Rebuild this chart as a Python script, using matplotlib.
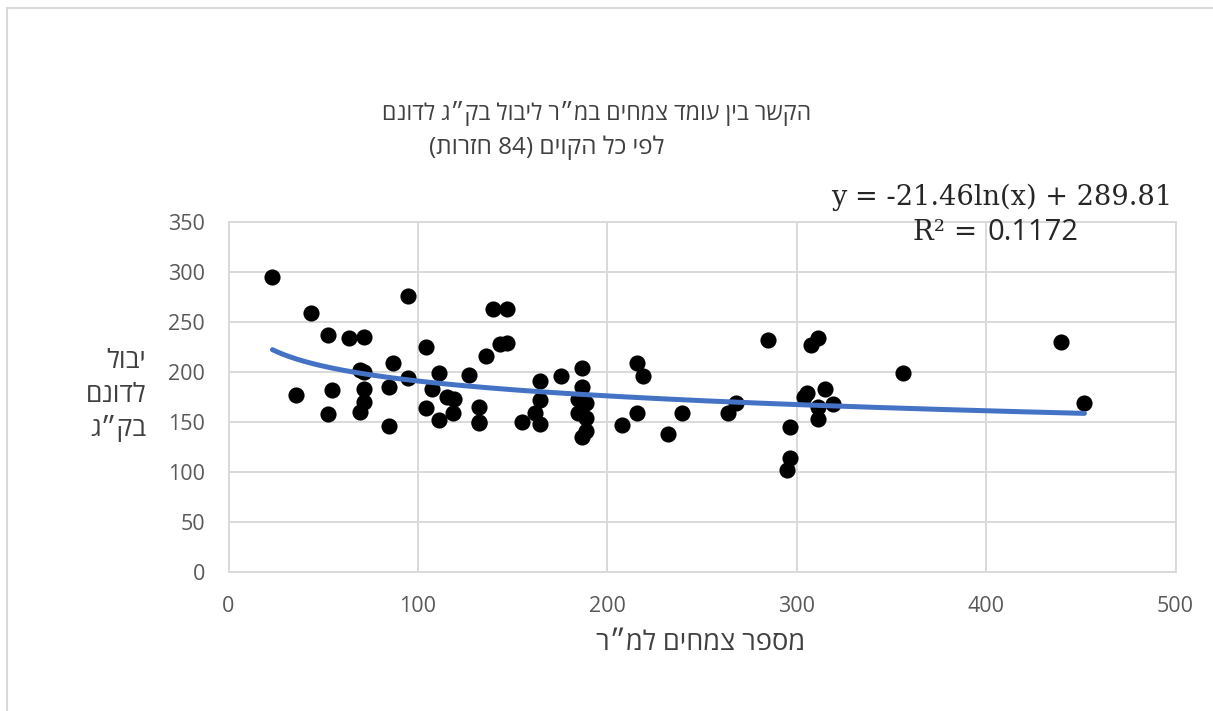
import re
import numpy as np
import matplotlib
matplotlib.use("Agg")
import matplotlib.pyplot as plt
from matplotlib.patches import Rectangle

# Plant density (plants per m²) and yield (kg per dunam), all lines
density = [23.2, 43.3, 35.9, 52.3, 54.9, 52.3, 63.4, 71.3, 69.2, 71.3, 71.3, 71.3,
           69.2, 84.5, 84.5, 87.1, 95.0, 95.0, 104.5, 104.5, 107.2, 111.4, 111.4,
           115.6, 119.3, 118.3, 127.2, 132.5, 132.5, 132.5, 135.7, 139.4, 147.3,
           143.1, 147.3, 155.2, 161.6, 164.7, 164.7, 164.7, 175.3, 184.3, 184.3,
           186.4, 186.4, 188.5, 188.5, 188.5, 186.4, 207.5, 215.9, 219.1, 215.9,
           231.8, 239.7, 263.5, 268.2, 284.6, 296.2, 296.2, 295.1, 304.1, 305.2,
           307.8, 311.5, 311.5, 311.5, 315.2, 319.4, 355.9, 439.8, 451.9]
yield_kg = [295.1, 259.2, 177.5, 237.3, 182.5, 158.5, 234.3, 235.3, 202.4, 200.4,
            183.4, 170.5, 160.5, 185.4, 145.6, 209.4, 276.2, 194.4, 225.3, 164.5,
            183.4, 199.4, 152.5, 175.5, 173.5, 159.5, 197.4, 165.5, 150.5, 148.6,
            216.4, 263.2, 263.2, 228.3, 229.3, 150.5, 159.5, 147.6, 172.5, 191.4,
            196.4, 173.5, 159.5, 204.4, 185.4, 169.5, 154.5, 140.6, 134.6, 146.6,
            209.4, 196.4, 159.5, 137.6, 159.5, 159.5, 169.5, 232.3, 144.6, 113.7,
            101.7, 175.5, 179.5, 227.3, 234.3, 165.5, 153.5, 183.4, 168.5, 199.4,
            230.3, 169.5]

# Logarithmic trend line coefficients
trend_a = -21.46
trend_b = 289.81
r_squared = 0.1172

x_ticks = [0, 100, 200, 300, 400, 500]
y_ticks = [0, 50, 100, 150, 200, 250, 300, 350]

title_lines = ["הקשר בין עומד צמחים במ״ר ליבול בק״ג לדונם",
               "לפי כל הקוים (84 חזרות)"]
x_label = "מספר צמחים למ״ר"
y_label_lines = ["יבול", "לדונם", "בק״ג"]


def visual(s):
    """Reorder a Hebrew string for left-to-right rendering."""
    r = s[::-1]
    r = re.sub(r"\d+", lambda m: m.group(0)[::-1], r)
    return r.translate(str.maketrans("()", ")("))


W, H = 1213, 711
plt.rcParams["font.family"] = ["Open Sans", "Liberation Sans", "DejaVu Sans"]
fig = plt.figure(figsize=(W / 100, H / 100), dpi=100)
fig.patch.set_facecolor("white")

# outer chart frame
fig.patches.append(Rectangle((7 / W, -0.1), 1.2, 1 - 8 / H + 0.1,
                             transform=fig.transFigure, fill=False,
                             edgecolor="#D9D9D9", linewidth=1.5))


def fx(px):
    return px / W


def fy(py):
    return 1 - py / H


ax = fig.add_axes([fx(228.5), fy(572), fx(1175.5) - fx(228.5), fy(222) - fy(572)])
ax.set_xlim(0, 500)
ax.set_ylim(0, 350)
ax.set_xticks(x_ticks)
ax.set_yticks(y_ticks)
ax.grid(True, color="#D9D9D9", linewidth=1.4)
ax.set_axisbelow(True)
for sp in ax.spines.values():
    sp.set_color("#D9D9D9")
    sp.set_linewidth(1.4)
ax.tick_params(length=0, labelcolor="#595959", pad=17)
for lab in ax.get_xticklabels() + ax.get_yticklabels():
    lab.set_fontfamily("Open Sans")
    lab.set_fontsize(15.5)

ax.scatter(density, yield_kg, s=135, color="black", zorder=3, linewidths=0)

xs = np.linspace(min(density), max(density), 300)
ax.plot(xs, trend_a * np.log(xs) + trend_b, color="#4472C4", linewidth=3.6,
        solid_capstyle="round", zorder=4)

txt_color = "#404040"
fig.text(fx(597), fy(113), visual(title_lines[0]), ha="center", va="center",
         fontsize=16.7, color=txt_color)
fig.text(fx(547), fy(148), visual(title_lines[1]), ha="center", va="center",
         fontsize=17.5, color=txt_color)

fig.text(fx(701), fy(643), visual(x_label), ha="center", va="center",
         fontsize=19.5, color=txt_color)
for i, line in enumerate(y_label_lines):
    fig.text(fx(146), fy(362 + 33 * i), visual(line), ha="right", va="center",
             fontsize=19, color=txt_color)

eq = f"y = {trend_a:.2f}ln(x) + {trend_b:.2f}"
fig.text(fx(1002), fy(197), eq, ha="center", va="center", fontsize=19.6,
         family="DejaVu Serif", color="#262626")
fig.text(fx(977), fy(232), "R² =", ha="right", va="center", fontsize=20,
         family="DejaVu Serif", color="#262626")
fig.text(fx(987), fy(232), f"{r_squared:.4f}", ha="left", va="center",
         fontsize=21, family="Open Sans", color="#262626")

fig.savefig("out.png", dpi=100, facecolor="white")
